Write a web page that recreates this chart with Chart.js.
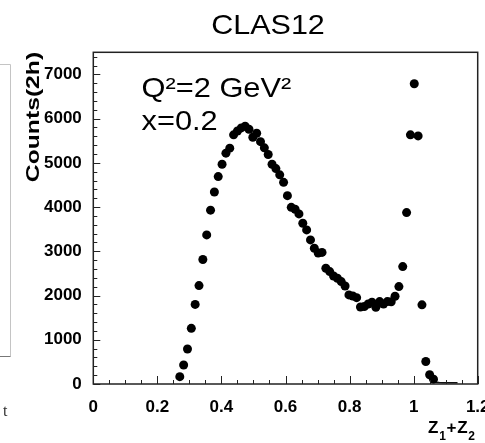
<!DOCTYPE html>
<html><head><meta charset="utf-8">
<script src="https://cdn.jsdelivr.net/npm/chart.js@4/dist/chart.umd.min.js"></script>
<style>html,body{margin:0;padding:0;background:#fff;}#wrap{width:485px;height:443px;position:relative;}</style>
</head><body><div id="wrap"><canvas id="c" width="485" height="443"></canvas></div>
<script>
// ---- data ----
const zSum = [0.270,0.282,0.294,0.306,0.318,0.330,0.342,0.354,0.366,0.378,
  0.390,0.402,0.414,0.426,0.438,0.450,0.462,0.474,0.486,0.498,
  0.510,0.522,0.534,0.546,0.558,0.570,0.582,0.594,0.606,0.618,
  0.630,0.642,0.654,0.666,0.678,0.690,0.702,0.714,0.726,0.738,
  0.750,0.762,0.774,0.786,0.798,0.810,0.822,0.834,0.846,0.858,
  0.870,0.882,0.894,0.906,0.918,0.930,0.942,0.954,0.966,0.978,
  0.990,1.002,1.014,1.026,1.038,1.050,1.062];
const counts = [166,430,792,1259,1800,2225,2815,3371,3930,4340,
  4690,4970,5219,5332,5633,5720,5790,5830,5760,5580,
  5670,5480,5340,5190,4970,4870,4730,4560,4258,3995,
  3950,3846,3635,3484,3258,3070,2960,2975,2617,2541,
  2443,2391,2315,2217,2014,1991,1953,1740,1750,1810,
  1850,1735,1863,1810,1863,1860,1985,2202,2655,3876,
  5633,6790,5610,1790,510,210,110];
const tailZ = [1.068,1.080,1.092,1.104,1.116,1.128,1.137];
const tailCounts = [40,32,30,30,30,30,30];
const xTicks = [0,0.2,0.4,0.6,0.8,1,1.2];
const yTicks = [0,1000,2000,3000,4000,5000,6000,7000];
const chartTitle = 'CLAS12';
const yTitle = 'Counts(2h)';

const decor = {
  id: 'decor',
  afterDatasetsDraw(chart) {
    const ctx = chart.ctx, a = chart.chartArea;
    const xs = chart.scales.x, ys = chart.scales.y;
    ctx.save();
    ctx.strokeStyle = '#222';
    ctx.lineWidth = 1;
    ctx.beginPath();
    for (let k = 0; k <= 24; k++) {
      const v = k * 0.05;
      const px = Math.round(xs.getPixelForValue(v)) + 0.5;
      const len = (k % 4 === 0) ? 8 : 4;
      ctx.moveTo(px, a.bottom); ctx.lineTo(px, a.bottom - len);
    }
    for (let k = 0; k <= 37; k++) {
      const v = k * 200;
      const py = Math.round(ys.getPixelForValue(v)) + 0.5;
      const len = (k % 5 === 0) ? 7 : 4;
      ctx.moveTo(a.left, py); ctx.lineTo(a.left + len, py);
    }
    ctx.stroke();
    ctx.lineWidth = 1.5;
    ctx.strokeStyle = '#222';
    ctx.strokeRect(a.left, a.top, a.right - a.left, a.bottom - a.top);
    ctx.restore();
  },
  afterDraw(chart) {
    const ctx = chart.ctx;
    ctx.save();
    ctx.fillStyle = '#000';
    ctx.font = '28px "Liberation Sans", Arial, sans-serif';
    ctx.textBaseline = 'alphabetic';
    ctx.textAlign = 'center';
    ctx.save(); ctx.translate(268, 33.5); ctx.scale(1.09, 1); ctx.fillText(chartTitle, 0, 0); ctx.restore();
    ctx.textAlign = 'left';
    ctx.save(); ctx.translate(141.5, 96.7); ctx.scale(1.1, 1); ctx.fillText('Q\u00B2=2 GeV\u00B2', 0, 0); ctx.restore();
    ctx.save(); ctx.translate(141.5, 129.5); ctx.scale(1.1, 1); ctx.fillText('x=0.2', 0, 0); ctx.restore();
    // y title
    ctx.save();
    ctx.translate(33.5, 117);
    ctx.rotate(-Math.PI / 2);
    ctx.scale(1.3, 1);
    ctx.font = 'bold 19px "Liberation Sans", Arial, sans-serif';
    ctx.textAlign = 'center';
    ctx.textBaseline = 'middle';
    ctx.fillText(yTitle, 0, 0);
    ctx.restore();
    // x title Z1+Z2
    ctx.save();
    ctx.textAlign = 'left';
    ctx.textBaseline = 'alphabetic';
    let x = 428;
    const big = 'bold 17px "Liberation Sans", Arial, sans-serif';
    const sub = 'bold 12px "Liberation Sans", Arial, sans-serif';
    const parts = [['Z', big, 433], ['1', sub, 440], ['+', big, 433], ['Z', big, 433], ['2', sub, 440]];
    for (const [t, f, y] of parts) { ctx.font = f; ctx.fillText(t, x, y); x += ctx.measureText(t).width * 1.08; }
    ctx.restore();
    // partial left panel
    ctx.strokeStyle = '#c4c4c4';
    ctx.lineWidth = 1;
    ctx.beginPath();
    ctx.moveTo(0, 64.5); ctx.lineTo(10.5, 64.5); ctx.lineTo(10.5, 356.5);
    ctx.stroke();
    ctx.strokeStyle = '#777';
    ctx.beginPath(); ctx.moveTo(0, 356.5); ctx.lineTo(10.5, 356.5); ctx.stroke();
    ctx.fillStyle = '#333';
    ctx.font = '16px "Liberation Serif", serif';
    ctx.fillText('Z', -9, 405);
    ctx.fillText('t', 3, 416);
    ctx.restore();
  }
};

new Chart(document.getElementById('c'), {
  type: 'scatter',
  data: {
    datasets: [{
      data: zSum.map((v, i) => ({x: v, y: counts[i]})),
      pointRadius: 4.5, pointHoverRadius: 4.5,
      pointBackgroundColor: '#000', pointBorderWidth: 0,
      showLine: false, clip: false
    }, {
      data: tailZ.map((v, i) => ({x: v, y: tailCounts[i]})),
      pointRadius: 0, showLine: true, borderColor: '#111', borderWidth: 1.5, clip: false
    }]
  },
  options: {
    responsive: false, animation: false, devicePixelRatio: 1,
    events: [],
    layout: {padding: {left: 0, top: 52.3, right: 7.3, bottom: 0}},
    plugins: {legend: {display: false}, tooltip: {enabled: false}, title: {display: false}},
    scales: {
      x: {
        type: 'linear', min: 0, max: 1.2,
        grid: {display: false, drawTicks: false},
        border: {display: false},
        afterBuildTicks: s => { s.ticks = xTicks.map(v => ({value: v})); },
        afterFit: s => { s.height = 59; s.paddingLeft = 0; s.paddingRight = 0; },
        ticks: {
          padding: 13, color: '#000', maxRotation: 0, autoSkip: false,
          font: {family: '"Liberation Sans", Arial, sans-serif', size: 17, weight: 'bold'},
          callback: v => String(v)
        }
      },
      y: {
        type: 'linear', min: 0, max: 7500,
        grid: {display: false, drawTicks: false},
        border: {display: false},
        afterBuildTicks: s => { s.ticks = yTicks.map(v => ({value: v})); },
        afterFit: s => { s.width = 93.3; s.paddingTop = 0; s.paddingBottom = 0; },
        ticks: {
          padding: 11.5, color: '#000', autoSkip: false,
          font: {family: '"Liberation Sans", Arial, sans-serif', size: 17, weight: 'bold'},
          callback: v => String(v)
        }
      }
    }
  },
  plugins: [decor]
});
</script></body></html>
